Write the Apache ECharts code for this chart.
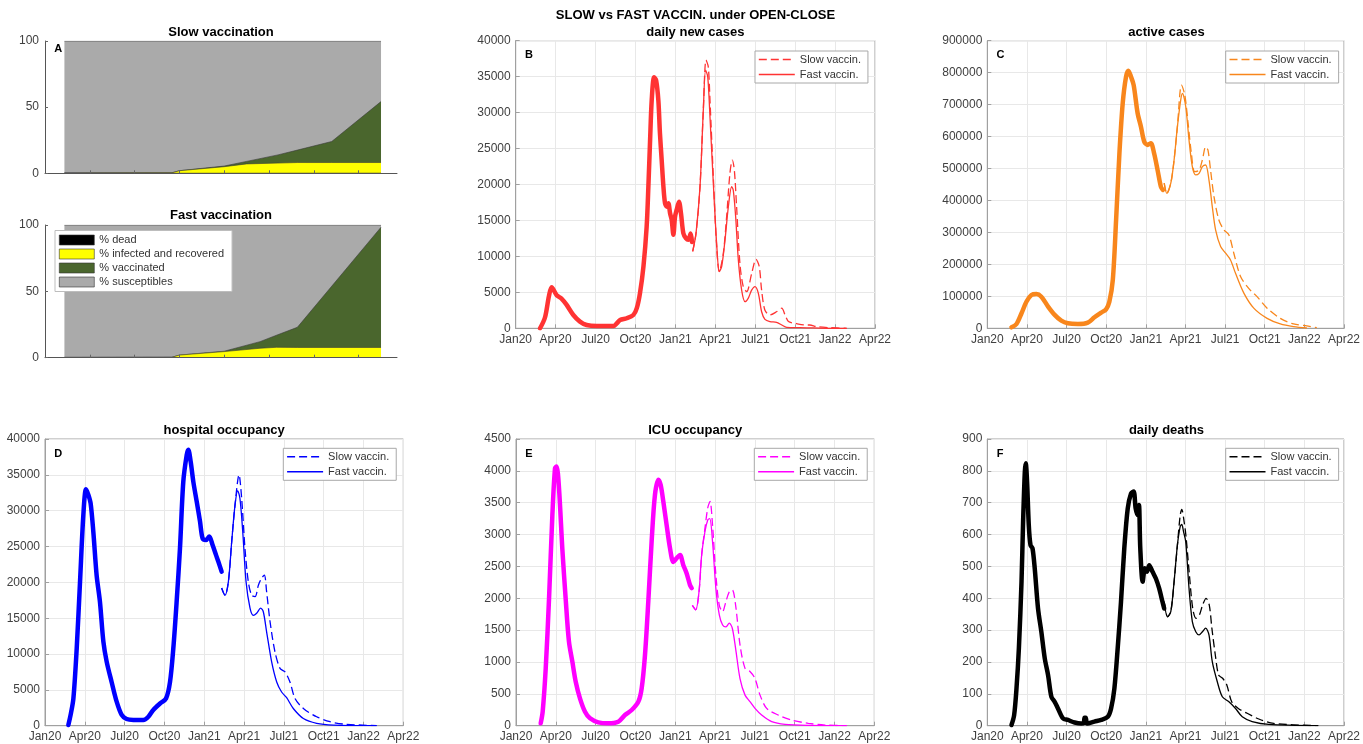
<!DOCTYPE html>
<html>
<head>
<meta charset="utf-8">
<title>SLOW vs FAST VACCIN. under OPEN-CLOSE</title>
<script src="https://cdn.jsdelivr.net/npm/echarts@6/dist/echarts.min.js"></script>
<style>
  html, body { margin: 0; padding: 0; background: #ffffff; }
  #chart { width: 1363px; height: 744px; }
</style>
</head>
<body>
<div id="chart"></div>
<script>
// x values throughout are months elapsed since 1 Jan 2020
const QUARTER_LABELS = ['Jan20', 'Apr20', 'Jul20', 'Oct20', 'Jan21', 'Apr21', 'Jul21', 'Oct21', 'Jan22', 'Apr22'];

// ---- Panel A: population composition (%) ----
const slowMonths       = [1.3, 8.5, 9.0, 12.0, 13.5, 15.6, 16.9, 19.2, 22.5];
const slowDead         = [0.05, 0.06, 0.06, 0.09, 0.10, 0.12, 0.13, 0.14, 0.14];
const slowInfected     = [0.2, 0.3, 1.9, 4.9, 7.0, 7.6, 8.0, 8.0, 8.0];
const slowVaccinated   = [0, 0, 0, 0.5, 1.9, 6.2, 9.4, 15.9, 46.1];
const slowSusceptibles = [99.75, 99.64, 98.04, 94.51, 91.0, 86.08, 82.47, 75.96, 45.76];

const fastMonths       = [1.3, 8.5, 9.0, 12.0, 14.4, 15.5, 16.9, 22.5];
const fastDead         = [0.05, 0.06, 0.06, 0.09, 0.11, 0.12, 0.13, 0.13];
const fastInfected     = [0.2, 0.3, 1.9, 4.5, 7.0, 7.7, 7.6, 7.6];
const fastVaccinated   = [0, 0, 0, 0.3, 5.0, 9.1, 15.2, 90.6];
const fastSusceptibles = [99.75, 99.64, 98.04, 95.11, 87.89, 83.08, 77.07, 1.67];

// ---- Panel B: daily new cases ----
const casesObserved = [[1.83,0],[2.2,1500],[2.5,4500],[2.7,5700],[3.08,4600],[3.46,4100],[3.83,3250],[4.33,1850],[4.83,930],[5.33,460],[6.09,320],[7.34,320],[7.6,700],[7.84,1150],[8.34,1400],[8.84,1850],[9.1,2800],[9.34,4900],[9.6,8600],[9.84,14100],[9.97,19700],[10.1,26200],[10.22,31700],[10.4,34900],[10.55,34500],[10.72,31700],[10.84,27100],[10.97,23400],[11.1,19700],[11.22,17400],[11.35,16900],[11.47,17400],[11.6,16000],[11.72,15100],[11.85,13000],[11.97,15500],[12.1,16500],[12.27,17600],[12.42,16000],[12.6,13200],[12.8,12500],[12.97,12300],[13.15,13200],[13.25,12000]];
const casesFast = [[13.3,10700],[13.55,13200],[13.85,19700],[14.1,30400],[14.27,35900],[14.43,35000],[14.6,29400],[14.85,20200],[15.1,11800],[15.3,7900],[15.48,8600],[15.73,12300],[15.98,16900],[16.23,19700],[16.35,19200],[16.53,15500],[16.73,9500],[16.98,5300],[17.23,3700],[17.48,4200],[17.73,5300],[17.98,5800],[18.23,4900],[18.48,2300],[18.73,1250],[19.1,930],[19.6,830],[19.99,460],[20.36,140],[21.36,90],[22.36,50],[23.87,0],[24.87,0]];
const casesSlow = [[13.3,10700],[13.55,13200],[13.85,19700],[14.1,30400],[14.3,37300],[14.47,36400],[14.6,31700],[14.85,21100],[15.1,11400],[15.3,7900],[15.6,10400],[15.85,15500],[16.1,21600],[16.28,23400],[16.43,22000],[16.6,16900],[16.85,9000],[17.1,5800],[17.36,5100],[17.73,7600],[18.06,9600],[18.3,8600],[18.48,5300],[18.73,2500],[19.1,1850],[19.6,2300],[19.99,2800],[20.24,1850],[20.5,930],[20.99,700],[21.74,460],[22.1,460],[22.6,230],[23.6,90],[24.87,0]];

// ---- Panel C: active cases ----
const activeObserved = [[1.83,3000],[2.21,13500],[2.59,47000],[2.96,83000],[3.34,104000],[3.72,107000],[4.09,99000],[4.6,68000],[5.1,42000],[5.6,24000],[6.1,15600],[6.86,13500],[7.61,17700],[8.11,34400],[8.62,49000],[8.99,59400],[9.24,83000],[9.5,151000],[9.75,339000],[10.0,547000],[10.25,704000],[10.5,787000],[10.68,806000],[10.88,787000],[11.08,761000],[11.38,673000],[11.63,631000],[11.88,584000],[12.13,574000],[12.38,579000],[12.63,547000],[12.89,495000],[13.14,443000],[13.29,433000]];
const activeFast = [[13.39,454000],[13.59,422000],[13.89,454000],[14.14,527000],[14.39,631000],[14.64,714000],[14.77,735000],[15.02,694000],[15.27,589000],[15.52,506000],[15.77,480000],[16.03,485000],[16.28,506000],[16.53,511000],[16.78,464000],[17.03,381000],[17.28,308000],[17.66,256000],[18.04,235000],[18.41,214000],[18.79,172000],[19.42,110000],[20.17,63000],[21.18,31000],[22.18,13600],[23.18,5200],[24.19,1000]];
const activeSlow = [[13.39,454000],[13.59,422000],[13.89,454000],[14.14,527000],[14.39,631000],[14.7,761000],[14.95,730000],[15.2,641000],[15.45,547000],[15.7,490000],[16.03,495000],[16.28,527000],[16.53,568000],[16.7,558000],[16.9,495000],[17.16,412000],[17.53,339000],[17.91,308000],[18.29,292000],[18.66,235000],[19.17,162000],[19.79,125000],[20.42,99000],[21.18,63000],[22.18,31000],[23.18,13600],[24.19,7300],[24.94,2000]];

// ---- Panel D: hospital occupancy ----
const hospObserved = [[1.76,100],[1.93,1500],[2.14,3800],[2.39,10800],[2.64,20100],[2.89,29400],[3.09,33000],[3.27,32200],[3.44,31000],[3.64,27100],[3.89,21000],[4.14,17300],[4.4,11700],[4.65,8900],[5.02,6100],[5.4,3350],[5.78,1500],[6.15,930],[6.66,800],[7.41,800],[7.79,1250],[8.16,2200],[8.67,3100],[9.12,3800],[9.42,6100],[9.67,10800],[9.92,17300],[10.17,24700],[10.42,34000],[10.68,37800],[10.8,38500],[10.98,36800],[11.18,34000],[11.43,31300],[11.68,28500],[11.88,26100],[12.13,25900],[12.38,26400],[12.63,25200],[12.89,23800],[13.06,22900],[13.31,21500]];
const hospFast = [[13.31,19200],[13.56,18200],[13.82,20100],[14.07,25700],[14.32,30800],[14.52,32800],[14.69,31700],[14.9,27100],[15.15,20100],[15.45,16400],[15.7,15400],[15.95,15700],[16.25,16400],[16.45,15900],[16.7,13100],[17.08,8900],[17.46,6100],[17.83,4700],[18.21,3900],[18.71,2400],[19.47,1000],[20.47,330],[21.73,90],[24.99,0]];
const hospSlow = [[13.31,19200],[13.56,18200],[13.82,20100],[14.07,25700],[14.32,30800],[14.62,35000],[14.82,31700],[15.07,24700],[15.32,20100],[15.57,18200],[15.83,18000],[16.08,19600],[16.33,20600],[16.53,21000],[16.7,18700],[16.96,14500],[17.33,10300],[17.71,8000],[18.09,7500],[18.46,6100],[18.84,3800],[19.47,2400],[20.47,1250],[21.48,560],[22.48,230],[24.99,0]];

// ---- Panel E: ICU occupancy ----
const icuObserved = [[1.86,37],[2.01,220],[2.24,900],[2.49,2000],[2.74,3300],[2.94,4040],[3.06,4070],[3.24,3730],[3.49,2780],[3.74,2000],[3.99,1320],[4.25,1000],[4.5,690],[4.82,430],[5.2,220],[5.58,115],[6.2,52],[6.96,37],[7.71,63],[8.21,167],[8.72,246],[9.22,377],[9.47,586],[9.72,1110],[9.97,1950],[10.22,2890],[10.47,3620],[10.73,3860],[10.9,3780],[11.1,3520],[11.35,3150],[11.61,2780],[11.86,2570],[12.11,2630],[12.36,2680],[12.61,2520],[12.86,2390],[13.11,2210],[13.24,2160]];
const icuFast = [[13.29,1890],[13.54,1820],[13.79,2100],[13.99,2680],[14.24,3050],[14.45,3230],[14.6,3250],[14.81,2890],[15.06,2160],[15.32,1740],[15.57,1580],[15.82,1550],[16.07,1610],[16.3,1530],[16.55,1210],[16.88,740],[17.26,480],[17.63,377],[18.01,272],[18.51,167],[19.27,63],[20.27,21],[22.03,5],[24.92,0]];
const icuSlow = [[13.29,1890],[13.54,1820],[13.79,2100],[13.99,2680],[14.24,3100],[14.45,3420],[14.62,3520],[14.81,3150],[15.06,2370],[15.32,1890],[15.57,1790],[15.82,1950],[16.07,2100],[16.3,2130],[16.55,1890],[16.88,1270],[17.26,900],[17.63,850],[18.01,740],[18.39,480],[18.89,272],[19.77,167],[20.77,89],[22.03,37],[23.29,10],[24.92,0]];

// ---- Panel F: daily deaths ----
const deathsObserved = [[1.83,2],[2.03,33],[2.21,117],[2.39,243],[2.59,452],[2.71,640],[2.84,797],[2.91,824],[3.01,766],[3.14,630],[3.27,567],[3.42,557],[3.59,494],[3.84,368],[4.09,295],[4.35,211],[4.6,159],[4.85,91],[5.1,75],[5.35,54],[5.73,23],[6.1,18],[6.61,10],[7.11,7],[7.3,8],[7.36,25],[7.45,25],[7.56,7],[8.11,13],[8.62,18],[9.12,28],[9.37,54],[9.62,117],[9.87,243],[10.12,389],[10.37,557],[10.63,682],[10.88,729],[11.08,735],[11.23,682],[11.38,661],[11.48,693],[11.58,557],[11.76,452],[11.93,494],[12.08,483],[12.26,504],[12.51,483],[12.76,462],[13.01,431],[13.26,389],[13.39,368]];
const deathsFast = [[13.39,389],[13.64,342],[13.89,358],[14.14,452],[14.39,567],[14.6,625],[14.72,632],[14.85,610],[15.02,578],[15.27,431],[15.52,327],[15.78,295],[16.03,285],[16.28,295],[16.53,306],[16.78,285],[17.03,201],[17.41,138],[17.79,91],[18.29,75],[18.79,54],[19.3,28],[20.05,13],[21.31,4],[25.05,0]];
const deathsSlow = [[13.39,389],[13.64,342],[13.89,358],[14.14,452],[14.39,567],[14.6,660],[14.72,679],[14.9,640],[15.05,590],[15.3,473],[15.55,368],[15.8,337],[16.05,347],[16.3,379],[16.56,400],[16.8,379],[17.0,306],[17.26,222],[17.51,159],[17.81,149],[18.13,128],[18.5,75],[19.0,54],[19.67,39],[20.55,21],[21.68,7],[25.05,0]];

// ---------------------------------------------------------------------------
const FONT = '"Liberation Sans", Arial, Helvetica, sans-serif';
const AXIS_GRAY = '#a0a0a0';
const GRID_GRAY = '#e8e8e8';
const LABEL_COLOR = '#404040';

const AREA_FILLS = ['#000000', '#ffff00', '#4a662d', '#aaaaaa'];
const AREA_NAMES = ['% dead', '% infected and recovered', '% vaccinated', '% susceptibles'];

const timePanels = [
  { key: 'B', grid: { left: 515.7, top: 40.7, width: 359.3, height: 287.6 }, yMax: 40000, yStep: 5000,
    color: '#ff3333', title: 'daily new cases', titleY: 32, letter: [529, 55], legend: [755, 51],
    observed: casesObserved, fast: casesFast, slow: casesSlow },
  { key: 'C', grid: { left: 987.3, top: 40.7, width: 358.4, height: 287.6 }, yMax: 900000, yStep: 100000,
    color: '#f8861c', title: 'active cases', titleY: 32, letter: [1000.5, 55], legend: [1225.7, 51],
    observed: activeObserved, fast: activeFast, slow: activeSlow },
  { key: 'D', grid: { left: 45, top: 439, width: 358.3, height: 286.7 }, yMax: 40000, yStep: 5000,
    color: '#0000ff', title: 'hospital occupancy', titleY: 430, letter: [58.3, 454], legend: [283.3, 448.3],
    observed: hospObserved, fast: hospFast, slow: hospSlow },
  { key: 'E', grid: { left: 516, top: 439, width: 358.3, height: 286.7 }, yMax: 4500, yStep: 500,
    color: '#ff00ff', title: 'ICU occupancy', titleY: 430, letter: [529, 454], legend: [754.3, 448.3],
    observed: icuObserved, fast: icuFast, slow: icuSlow },
  { key: 'F', grid: { left: 987.3, top: 439, width: 358.4, height: 286.7 }, yMax: 900, yStep: 100,
    color: '#000000', title: 'daily deaths', titleY: 430, letter: [1000, 454], legend: [1225.7, 448.3],
    observed: deathsObserved, fast: deathsFast, slow: deathsSlow }
];

const areaPanels = [
  { key: 'slow', title: 'Slow vaccination', titleY: 32, grid: { left: 45, top: 41, width: 352, height: 132.3 },
    months: slowMonths, layers: [slowDead, slowInfected, slowVaccinated, slowSusceptibles], letter: [58.3, 49.3] },
  { key: 'fast', title: 'Fast vaccination', titleY: 215.5, grid: { left: 45, top: 225, width: 352, height: 132.7 },
    months: fastMonths, layers: [fastDead, fastInfected, fastVaccinated, fastSusceptibles], letter: null }
];

const grids = [], xAxes = [], yAxes = [], series = [], legends = [], graphics = [];

function textEl(x, y, text, font, color) {
  return {
    type: 'text', x: x, y: y, silent: true, z: 100,
    style: { text: text, font: font, fill: color || '#000', textAlign: 'center', textVerticalAlign: 'middle' }
  };
}

const plainNumber = function (v) { return String(v); };

// Stacked-area composition panels: each band is filled from its cumulative top
// down to zero, upper bands first so the lower ones are painted over them.
areaPanels.forEach(function (p) {
  const gi = grids.length;
  grids.push(Object.assign({ show: false, containLabel: false }, p.grid));
  xAxes.push({
    type: 'value', gridIndex: gi, min: 0, max: 23.57, interval: 3, z: 20,
    axisLine: { show: true, lineStyle: { color: '#555', width: 1 } },
    axisTick: { show: true, inside: true, length: 3, lineStyle: { color: '#666' },
                customValues: [3, 6, 9, 12, 15, 18, 21] },
    axisLabel: { show: false }, splitLine: { show: false }
  });
  yAxes.push({
    type: 'value', gridIndex: gi, min: 0, max: 100, interval: 50, z: 20,
    axisLine: { show: true, lineStyle: { color: '#555', width: 1 } },
    axisTick: { show: true, inside: true, length: 3, lineStyle: { color: '#666' } },
    axisLabel: { fontFamily: FONT, fontSize: 12, color: LABEL_COLOR, margin: 6, formatter: plainNumber },
    splitLine: { show: false }
  });
  const tops = [];
  let running = p.months.map(function () { return 0; });
  p.layers.forEach(function (layer) {
    running = running.map(function (r, i) { return r + layer[i]; });
    tops.push(running.slice());
  });
  for (let k = p.layers.length - 1; k >= 0; k--) {
    series.push({
      type: 'line', name: AREA_NAMES[k], xAxisIndex: gi, yAxisIndex: gi,
      symbol: 'none', smooth: false, color: AREA_FILLS[k], z: 2 + (p.layers.length - k),
      data: tops[k].map(function (v, i) { return [p.months[i], v]; }),
      lineStyle: { color: '#3a3a3a', width: 0.6 },
      areaStyle: { color: AREA_FILLS[k], opacity: 1, origin: 'start' },
      emphasis: { disabled: true }, animation: false
    });
  }
  graphics.push(textEl(p.grid.left + p.grid.width / 2, p.titleY, p.title, 'bold 13px ' + FONT));
  if (p.letter) graphics.push(textEl(p.letter[0], p.letter[1], 'A', 'bold 11px ' + FONT));
});

legends.push({
  left: 55, top: 230.5, orient: 'vertical', selectedMode: false, z: 30,
  data: AREA_NAMES, icon: 'rect', itemWidth: 35, itemHeight: 10, itemGap: 1,
  padding: [3, 8, 3, 4], backgroundColor: '#ffffff', borderColor: '#bdbdbd', borderWidth: 1, borderRadius: 0,
  itemStyle: { borderColor: '#333', borderWidth: 0.6 },
  textStyle: { fontFamily: FONT, fontSize: 11, color: '#333', lineHeight: 13 }
});

// Time-series panels: observed period drawn thick, two vaccination scenarios thin
timePanels.forEach(function (p) {
  const gi = grids.length;
  grids.push(Object.assign({ show: true, borderColor: AXIS_GRAY, borderWidth: 1, backgroundColor: 'transparent', containLabel: false }, p.grid));
  xAxes.push({
    type: 'value', gridIndex: gi, min: 0, max: 27, interval: 3,
    axisLine: { show: true, lineStyle: { color: AXIS_GRAY } },
    axisTick: { show: true, inside: true, length: 4, lineStyle: { color: AXIS_GRAY } },
    axisLabel: {
      fontFamily: FONT, fontSize: 12, color: LABEL_COLOR, margin: 5,
      formatter: function (v) { return QUARTER_LABELS[Math.round(v / 3)] || ''; }
    },
    splitLine: { show: true, lineStyle: { color: GRID_GRAY, width: 1 } }
  });
  yAxes.push({
    type: 'value', gridIndex: gi, min: 0, max: p.yMax, interval: p.yStep,
    axisLine: { show: true, lineStyle: { color: AXIS_GRAY } },
    axisTick: { show: true, inside: true, length: 4, lineStyle: { color: AXIS_GRAY } },
    axisLabel: { fontFamily: FONT, fontSize: 12, color: LABEL_COLOR, margin: 5, formatter: plainNumber },
    splitLine: { show: true, lineStyle: { color: GRID_GRAY, width: 1 } }
  });
  const slowName = p.key + '|Slow vaccin.';
  const fastName = p.key + '|Fast vaccin.';
  series.push({
    type: 'line', name: p.key + '|observed', xAxisIndex: gi, yAxisIndex: gi,
    data: p.observed, symbol: 'none', smooth: 0.3, color: p.color, z: 4,
    lineStyle: { color: p.color, width: 4.5, cap: 'round', join: 'round' },
    emphasis: { disabled: true }, animation: false
  });
  series.push({
    type: 'line', name: slowName, xAxisIndex: gi, yAxisIndex: gi,
    data: p.slow, symbol: 'none', smooth: 0.3, color: p.color, z: 3,
    lineStyle: { color: p.color, width: 1.3, type: [8, 4] },
    emphasis: { disabled: true }, animation: false
  });
  series.push({
    type: 'line', name: fastName, xAxisIndex: gi, yAxisIndex: gi,
    data: p.fast, symbol: 'none', smooth: 0.3, color: p.color, z: 3,
    lineStyle: { color: p.color, width: 1.3 },
    emphasis: { disabled: true }, animation: false
  });
  legends.push({
    left: p.legend[0], top: p.legend[1], orient: 'vertical', selectedMode: false,
    data: [slowName, fastName], itemWidth: 36, itemHeight: 12, itemGap: 2,
    padding: [2, 7, 2, 3], backgroundColor: '#ffffff', borderColor: '#a8a8a8', borderWidth: 1, borderRadius: 0,
    itemStyle: { opacity: 0 },
    lineStyle: { width: 1.6 },
    formatter: function (name) { return name.split('|')[1]; },
    textStyle: { fontFamily: FONT, fontSize: 11, color: '#333', lineHeight: 13 }
  });
  graphics.push(textEl(p.grid.left + p.grid.width / 2, p.titleY, p.title, 'bold 13px ' + FONT));
  graphics.push(textEl(p.letter[0], p.letter[1], p.key, 'bold 11px ' + FONT));
});

graphics.push(textEl(695.5, 15, 'SLOW vs FAST VACCIN. under OPEN-CLOSE', 'bold 13px ' + FONT));

const chart = echarts.init(document.getElementById('chart'), null, { renderer: 'canvas' });
chart.setOption({
  backgroundColor: '#ffffff',
  animation: false,
  textStyle: { fontFamily: FONT },
  grid: grids,
  xAxis: xAxes,
  yAxis: yAxes,
  legend: legends,
  series: series,
  graphic: graphics
});
</script>
</body>
</html>
